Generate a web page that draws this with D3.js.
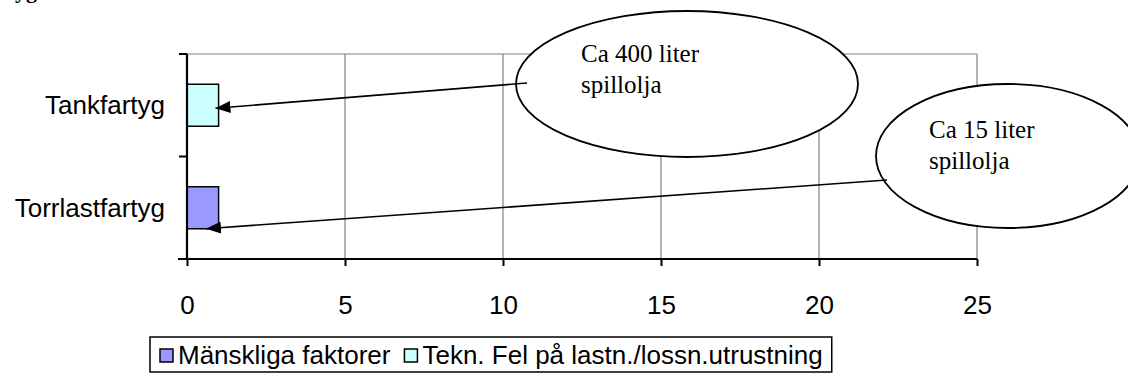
<!DOCTYPE html>
<html>
<head>
<meta charset="utf-8">
<script src="https://cdn.jsdelivr.net/npm/d3@7"></script>
<style>
  body { margin: 0; background: #fff; }
  svg { display: block; }
</style>
</head>
<body>
<svg id="chart" width="1128" height="376"></svg>
<script>
// Incidents per ship type, split by cause
const categories = ["Tankfartyg", "Torrlastfartyg"];
const seriesNames = ["Mänskliga faktorer", "Tekn. Fel på lastn./lossn.utrustning"];
const manskligaFaktorer = [0, 1];
const tekniskaFel = [1, 0];
const seriesColors = ["#9999FF", "#CCFFFF"];
const xTickValues = [0, 5, 10, 15, 20, 25];

// Callout notes pointing at the bars
const calloutLines = [["Ca 400 liter", "spillolja"], ["Ca 15 liter", "spillolja"]];
const calloutTargets = ["Tankfartyg", "Torrlastfartyg"];

const SANS = "'Liberation Sans', Arial, sans-serif";
const SERIF = "'Liberation Serif', 'Times New Roman', serif";

const svg = d3.select("#chart");
svg.append("rect").attr("width", 1128).attr("height", 376).attr("fill", "#fff");

// Remnant of the heading above the chart
svg.append("text")
  .attr("x", 37).attr("y", -2)
  .attr("text-anchor", "end")
  .attr("font-family", SERIF).attr("font-weight", "bold").attr("font-size", 22)
  .text("Fartyg");

const plot = { left: 187, right: 977, top: 54, bottom: 259 };

const x = d3.scaleLinear().domain([0, 25]).range([plot.left, plot.right]);
const y = d3.scaleBand().domain(categories).range([plot.top, plot.bottom]).paddingInner(0).paddingOuter(0);
const barH = 42;
const barOff = (y.bandwidth() - barH) / 2;

// Vertical gridlines and top border
const g = svg.append("g");
g.selectAll("line.grid").data(xTickValues.slice(1)).join("line")
  .attr("class", "grid")
  .attr("x1", d => x(d)).attr("x2", d => x(d))
  .attr("y1", plot.top).attr("y2", plot.bottom)
  .attr("stroke", "#808080").attr("stroke-width", 1.2);
g.append("line")
  .attr("x1", plot.left).attr("x2", plot.right)
  .attr("y1", plot.top).attr("y2", plot.top)
  .attr("stroke", "#808080").attr("stroke-width", 1.2);

// Stacked bars
const rows = categories.map((c, i) => ({ cat: c, s0: manskligaFaktorer[i], s1: tekniskaFel[i] }));
const stack = d3.stack().keys(["s0", "s1"])(rows);
stack.forEach((layer, li) => {
  g.selectAll(null).data(layer.filter(d => d[1] - d[0] > 0)).join("rect")
    .attr("x", d => x(d[0]))
    .attr("y", d => y(d.data.cat) + barOff)
    .attr("width", d => x(d[1]) - x(d[0]))
    .attr("height", barH)
    .attr("fill", seriesColors[li])
    .attr("stroke", "#000").attr("stroke-width", 1.5);
});

// X axis
const xAxis = d3.axisBottom(x).tickValues(xTickValues).tickSize(7).tickPadding(30).tickSizeOuter(0);
const xg = svg.append("g").attr("transform", `translate(0,${plot.bottom})`).call(xAxis);
xg.select(".domain").attr("d", `M${plot.left - 9},0H${plot.right}`).attr("stroke", "#000").attr("stroke-width", 2.2);
xg.selectAll(".tick line").attr("stroke", "#000").attr("stroke-width", 2);
xg.selectAll(".tick text").attr("font-family", SANS).attr("font-size", 26).attr("fill", "#000");

// Y axis: line with ticks at category boundaries
const yBounds = categories.map(c => y(c)).concat([plot.bottom]);
svg.append("line")
  .attr("x1", plot.left).attr("x2", plot.left)
  .attr("y1", plot.top).attr("y2", plot.bottom)
  .attr("stroke", "#000").attr("stroke-width", 2.2);
svg.selectAll("line.ytick").data(yBounds).join("line")
  .attr("class", "ytick")
  .attr("x1", plot.left - 8).attr("x2", plot.left)
  .attr("y1", d => d).attr("y2", d => d)
  .attr("stroke", "#000").attr("stroke-width", 2);
svg.selectAll("text.ylab").data(categories).join("text")
  .attr("class", "ylab")
  .attr("x", 165)
  .attr("y", d => y(d) + y.bandwidth() / 2)
  .attr("dy", "0.35em")
  .attr("text-anchor", "end")
  .attr("font-family", SANS).attr("font-size", 26)
  .text(d => d);

// Callout ellipses
const ellipses = [
  { cx: 687, cy: 84, rx: 171, ry: 73, tx: 581, ty: 62 },
  { cx: 1008, cy: 156, rx: 132, ry: 72, tx: 929, ty: 138 }
];
ellipses.forEach((e, i) => {
  svg.append("ellipse")
    .attr("cx", e.cx).attr("cy", e.cy).attr("rx", e.rx).attr("ry", e.ry)
    .attr("fill", "#fff").attr("stroke", "#000").attr("stroke-width", 1.8);
  const t = svg.append("text")
    .attr("font-family", SERIF).attr("font-size", 25).attr("fill", "#000");
  calloutLines[i].forEach((ln, k) => {
    t.append("tspan").attr("x", e.tx).attr("y", e.ty + k * 31).text(ln);
  });
});

// Arrows from the callouts to the bars
svg.append("defs").append("marker")
  .attr("id", "arrowhead")
  .attr("markerUnits", "userSpaceOnUse")
  .attr("viewBox", "0 0 15 12")
  .attr("markerWidth", 15).attr("markerHeight", 12)
  .attr("refX", 15).attr("refY", 6)
  .attr("orient", "auto")
  .append("path").attr("d", "M0,0L15,6L0,12Z").attr("fill", "#000");

const arrowSpecs = [
  { from: [527, 83], tipValue: 0.9, tipDy: y.bandwidth() / 2 + 3 },
  { from: [887, 180], tipValue: 0.6, tipDy: barOff + barH }
];
arrowSpecs.forEach((a, i) => {
  svg.append("line")
    .attr("x1", a.from[0]).attr("y1", a.from[1])
    .attr("x2", x(a.tipValue)).attr("y2", y(calloutTargets[i]) + a.tipDy)
    .attr("stroke", "#000").attr("stroke-width", 1.6)
    .attr("marker-end", "url(#arrowhead)");
});

// Legend
const legendFont = 26;
const legend = svg.append("g");
const legendBox = legend.append("rect")
  .attr("x", 150).attr("y", 337).attr("height", 35)
  .attr("fill", "#fff").attr("stroke", "#000").attr("stroke-width", 1.5);
let lx = 160;
seriesNames.forEach((name, i) => {
  legend.append("rect")
    .attr("x", lx).attr("y", 349).attr("width", 13).attr("height", 13)
    .attr("fill", seriesColors[i]).attr("stroke", "#000").attr("stroke-width", 1.5);
  const t = legend.append("text")
    .attr("x", lx + 18).attr("y", 364)
    .attr("font-family", SANS).attr("font-size", legendFont)
    .text(name);
  lx += 18 + t.node().getComputedTextLength() + 14;
});
legendBox.attr("width", lx - 14 + 9 - 150);
</script>
</body>
</html>
